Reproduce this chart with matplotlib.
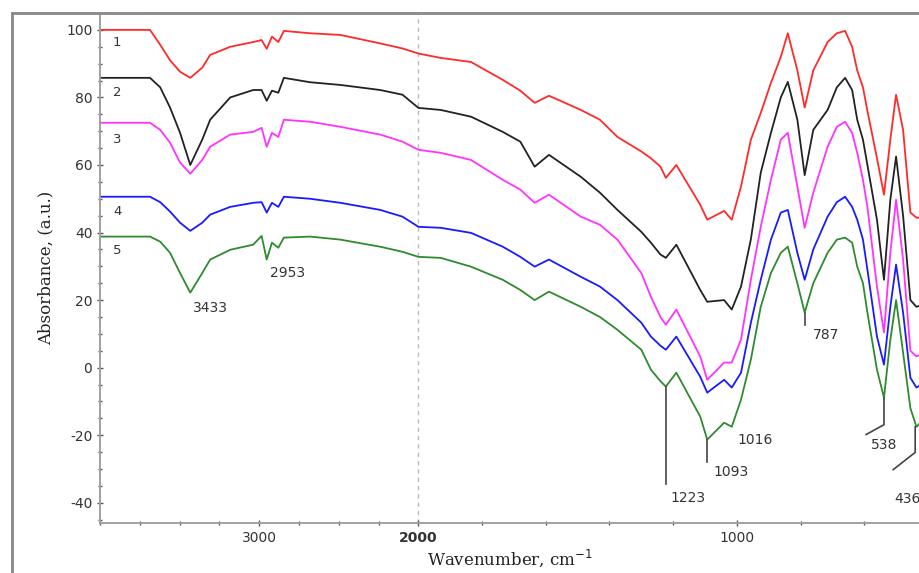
import numpy as np
import matplotlib
matplotlib.use("Agg")
import matplotlib.pyplot as plt
from matplotlib.lines import Line2D

plt.rcParams["axes.unicode_minus"] = False

# wavenumbers (cm-1) at which the spectra were read
wn = [4000, 3686, 3622, 3560, 3497, 3433, 3358, 3308, 3182, 3038, 2985, 2953, 2920, 2880,
      2845, 2680, 2490, 2240, 2100, 2000, 1930, 1835, 1735, 1680, 1635, 1590, 1490, 1430,
      1375, 1300, 1270, 1240, 1223, 1190, 1115, 1093, 1040, 1016, 987, 956, 925, 893, 862,
      840, 810, 787, 760, 715, 686, 660, 638, 622, 604, 590, 560, 538, 518, 500, 478, 455,
      436, 420]

a1 = [100, 100, 95.6, 91, 87.6, 85.8, 88.8, 92.6, 95, 96.4, 97, 94.4, 98, 96.4,
      99.7, 99, 98.5, 96, 94.5, 93, 91.7, 90.5, 85.2, 82, 78.4, 80.5, 76.3, 73.4,
      68.3, 64, 62, 59.5, 56.2, 60, 48.2, 43.8, 46.4, 43.8, 53.6, 67.5, 75.4, 84.3, 92,
      99, 88, 77, 88, 96.4, 99, 99.7, 95, 88, 83, 76, 62, 51.2, 67.5, 80.8, 70.4, 45.9,
      44.4, 44.4]
a2 = [85.8, 85.8, 83, 77, 69.5, 60, 67.5, 73.4, 80, 82.2, 82.2, 79, 82, 81.4,
      85.8, 84.5, 83.7, 82.2, 80.8, 76.9, 76.3, 74.3, 69.8, 66.9, 59.5, 63, 56.5, 51.8,
      46.7, 40.2, 37, 33.5, 32.5, 36.4, 23, 19.5, 20, 17.2, 24, 38, 57.7, 69.5, 80,
      84.6, 73.4, 57, 70.4, 76.3, 83, 85.8, 82.2, 73.4, 67.5, 60, 43.8, 26, 49.7, 62.5, 45, 20,
      18, 18.5]
a3 = [72.5, 72.5, 70.4, 66.6, 60.7, 57.4, 61.5, 65.4, 69, 69.8, 71, 65.4, 69.5, 68.3,
      73.4, 72.8, 71.3, 69, 66.9, 64.5, 63.6, 61.5, 55.6, 52.7, 48.8, 51.2, 44.7, 42.3,
      37.9, 28, 21, 15, 12.7, 17.2, 3.3, -3.6, 1.5, 1.5, 8.3, 26, 41.7, 55.6, 67.5,
      69.5, 53.6, 41.4, 51.8, 65.4, 71.3, 72.8, 69.5, 63.6, 55.6, 47.6, 24, 10.4, 34, 49.7, 32, 5,
      3.3, 4]
a4 = [50.6, 50.6, 49, 46.2, 42.9, 40.5, 42.9, 45.3, 47.6, 48.8, 49, 45.9, 48.8, 47.6,
      50.6, 50, 48.8, 46.7, 44.7, 41.7, 41.4, 39.9, 35.8, 32.8, 29.9, 32, 26.9, 24,
      20, 13.3, 9.2, 6.5, 5.3, 9.2, -2.7, -7.4, -3.6, -5.9, -1.5, 13.3, 26, 37.9, 45.9,
      46.7, 34, 26, 35, 44.7, 49, 50.6, 47.6, 43.8, 37.9, 29, 9.2, 0.9, 18, 30.5, 16.3, -3,
      -5.9, -5]
a5 = [38.8, 38.8, 37.3, 34, 28, 22.2, 28, 32, 34.9, 36.4, 39, 32, 37, 35.5,
      38.5, 38.8, 37.9, 35.8, 34.3, 32.8, 32.5, 29.9, 26, 23, 20, 22.5, 18, 15,
      11.2, 5.3, -0.6, -4, -5.6, -1.5, -14.5, -21.3, -16.3, -17.5, -9.5, 2.4, 18, 28, 34,
      35.8, 25, 16.3, 25, 34, 37.9, 38.5, 37, 29.9, 25, 16.3, -0.6, -8.9, 8.3, 20, 4.4, -12,
      -17.5, -16]

series = [a1, a2, a3, a4, a5]
names = ["1", "2", "3", "4", "5"]
colors = ["#ff2a2a", "#222222", "#ff33ff", "#1a1aff", "#2e8b2e"]
name_y = [96.2, 81.4, 67.5, 46.2, 34.6]


# spectrometer style axis: above 2000 cm-1 compressed by factor 2
def fwd(w):
    w = np.asarray(w, dtype=float)
    return np.where(w > 2000, 2000 + (w - 2000) / 2, w)


def inv(u):
    u = np.asarray(u, dtype=float)
    return np.where(u > 2000, 2000 + 2 * (u - 2000), u)


fig = plt.figure(figsize=(9.19, 5.73), dpi=100)
ax = fig.add_axes([100 / 919, 50 / 573, 819 / 919, 510 / 573])
ax.set_xscale("function", functions=(fwd, inv))

ax.axvline(2000, color="#bbbbbb", lw=1, ls=(0, (3, 3)), zorder=0)

for y, c in zip(series, colors):
    ax.plot(wn, y, color=c, lw=1.3)

for n, yy in zip(names, name_y):
    ax.text(3918, yy, n, fontsize=9.5, color="#333333", ha="left", va="center")

# peak marks on spectrum 5
gray = "#444444"
tkw = dict(fontsize=10, color="#333333", va="center", ha="left")
ax.text(3415, 17.8, "3433", **tkw)
ax.text(2931, 28.1, "2953", **tkw)
ax.plot([1223, 1223], [-5.6, -34.6], color=gray, lw=1.2)
ax.text(1208, -38.5, "1223", **tkw)
ax.plot([1093, 1093], [-21.3, -27.8], color=gray, lw=1.2)
ax.text(1075, -31, "1093", **tkw)
ax.text(997, -21.3, "1016", **tkw)
ax.plot([787, 787], [16.3, 12.5], color=gray, lw=1.2)
ax.text(761, 9.8, "787", **tkw)
ax.plot([538, 538, 594], [-8.9, -16.9, -19.8], color=gray, lw=1.2)
ax.text(580, -22.8, "538", **tkw)
ax.plot([440, 440, 509], [-17.5, -25.1, -30.2], color=gray, lw=1.2)
ax.text(506, -39, "436", **tkw)

ax.set_xlim(4000, 428)
ax.set_ylim(-46, 105)
ax.set_xticks([3000, 2000, 1000])
ax.set_xticklabels(["3000", "2000", "1000"])
ax.set_xticks([4000, 3750, 3500, 3250, 2750, 2500, 2250, 1800, 1600, 1400, 1200,
               800, 600], minor=True)
ax.set_yticks(range(-40, 101, 20))
ax.set_yticks(range(-45, 105, 5), minor=True)
ax.get_xticklabels()[1].set_fontweight("bold")

for s in ["top", "right"]:
    ax.spines[s].set_visible(False)
for s in ["left", "bottom"]:
    ax.spines[s].set_color("#a0a0a0")
    ax.spines[s].set_linewidth(1.4)
ax.tick_params(which="both", colors="#555555", labelcolor="#333333", labelsize=10,
               direction="inout")
ax.tick_params(which="major", length=4, width=1)
ax.tick_params(which="minor", length=3, width=1)

ax.set_xlabel("Wavenumber, cm$^{-1}$", family="DejaVu Serif", fontsize=12,
              color="#222222", labelpad=2)
ax.set_ylabel("Absorbance, (a.u.)", family="DejaVu Serif", fontsize=12,
              color="#222222", labelpad=8)

# outer frame of the original graphic
fig.add_artist(Line2D([12 / 919, 12 / 919], [0, 1 - 13 / 573], color="#888888", lw=2))
fig.add_artist(Line2D([12 / 919, 1], [1 - 13 / 573, 1 - 13 / 573], color="#888888", lw=2))

fig.savefig("out.png", dpi=100)
